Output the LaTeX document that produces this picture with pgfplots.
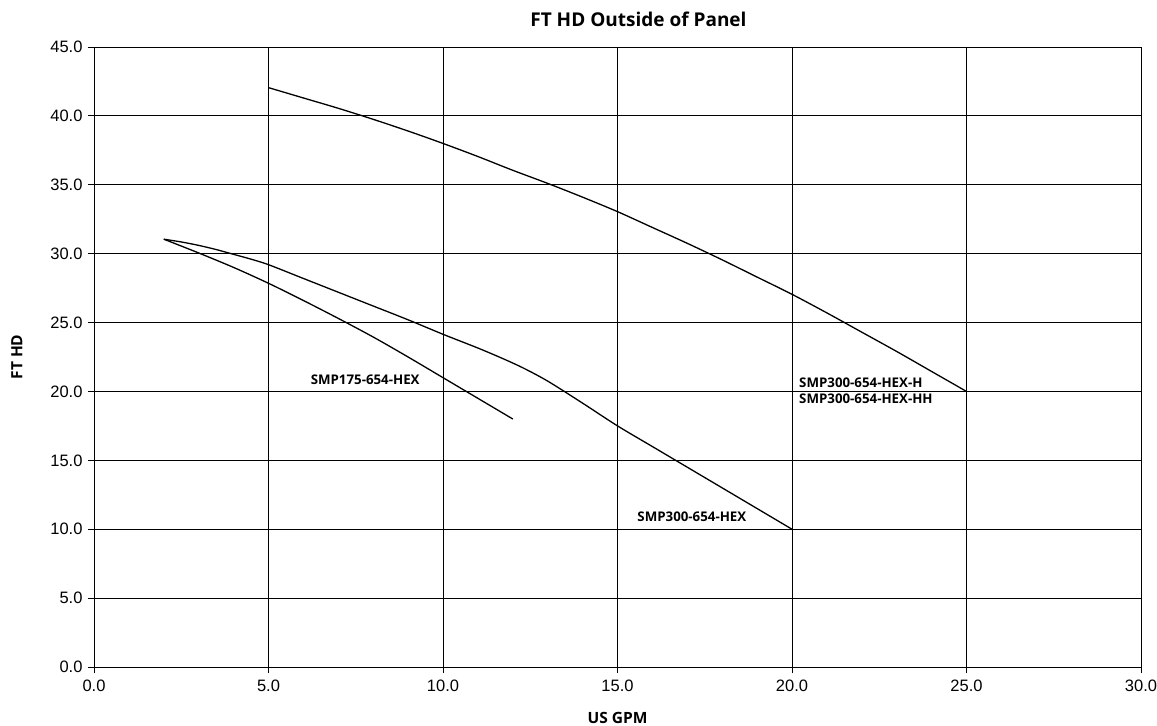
\documentclass[border=0pt]{standalone}
\usepackage{pgfplots}
\pgfplotsset{compat=1.18}
\usepackage{fontspec}
\setmainfont{Liberation Sans}
\newfontfamily\labfont{Open Sans}
\begin{document}
\begin{tikzpicture}
\begin{axis}[
  scale only axis,
  width=1047pt, height=620pt,
  xmin=0, xmax=30, ymin=0, ymax=45,
  xtick={0,5,...,30}, ytick={0,5,...,45},
  grid=major,
  major grid style={black, line width=0.8pt},
  axis line style={black, line width=0.9pt},
  tick style={black, line width=0.9pt},
  tick align=outside, major tick length=6pt,
  xtick pos=bottom, ytick pos=left,
  /pgf/number format/.cd, fixed, fixed zerofill, precision=1, assume math mode=true,
  /pgfplots/.cd,
  ticklabel style={font=\fontsize{16.5}{19}\selectfont},
  xticklabel style={yshift=-3pt},
  yticklabel style={xshift=-2pt},
  xlabel={\labfont\bfseries US GPM},
  ylabel={\labfont\bfseries FT HD},
  label style={font=\fontsize{15.5}{18}\selectfont},
  xlabel style={yshift=-14pt},
  ylabel style={yshift=21pt},
  clip=false,
]
\addplot[black, line width=1.3pt, smooth] coordinates {
(2,31.05)(3,30.05)(4,29.0)(5,27.85)(6,26.6)(7,25.3)(8,23.95)(9,22.5)(10,21.0)(11,19.5)(12,18.0)};
\addplot[black, line width=1.3pt, smooth] coordinates {
(2,31.05)(2.5,30.85)(3,30.6)(3.5,30.3)(4,29.95)(4.5,29.6)(5,29.2)(6,28.2)(7,27.2)(8,26.2)(9,25.2)(10,24.15)(11,23.15)(11.7,22.4)(12.3,21.7)(13,20.75)(14,19.15)(15,17.5)(16,16.0)(17,14.5)(18,13.0)(19,11.5)(20,10.0)};
\addplot[black, line width=1.3pt, smooth] coordinates {
(5,42.05)(6,41.3)(7,40.55)(8,39.75)(9,38.9)(10,38.0)(11,37.05)(12,36.05)(13,35.1)(14,34.1)(15,33.05)(16,31.9)(17,30.75)(18,29.55)(19,28.3)(20,27.05)(21,25.7)(22,24.3)(23,22.9)(24,21.45)(25,20.0)};
\node[font=\labfont\bfseries\fontsize{13.3}{16.7}\selectfont] at (axis cs:7.77,20.83) {SMP175-654-HEX};
\node[font=\labfont\bfseries\fontsize{13.3}{16.7}\selectfont] at (axis cs:17.13,10.9) {SMP300-654-HEX};
\node[font=\labfont\bfseries\fontsize{13.3}{16.7}\selectfont, anchor=west, align=left, inner sep=0pt] at (axis cs:20.2,20.05) {SMP300-654-HEX-H\\SMP300-654-HEX-HH};
\node[font=\labfont\bfseries\fontsize{19}{22}\selectfont] at (axis cs:15.6,47.0) {FT HD Outside of Panel};
\end{axis}
\pgfresetboundingbox
\path ([xshift=-94pt,yshift=-58pt]current axis.south west) rectangle ([xshift=16pt,yshift=47pt]current axis.north east);
\end{tikzpicture}
\end{document}
